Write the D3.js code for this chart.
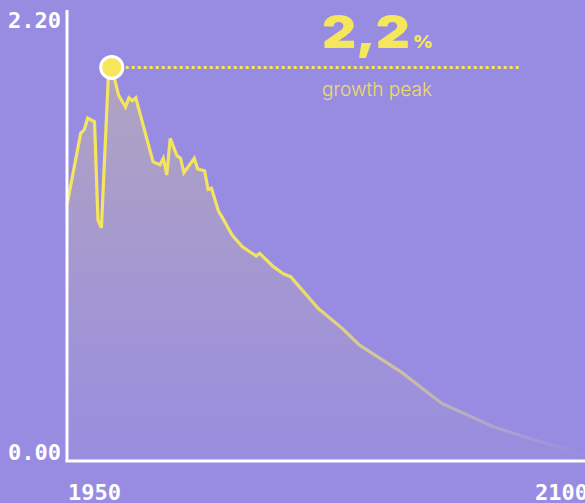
<!DOCTYPE html>
<html>
<head>
<meta charset="utf-8">
<script src="https://cdn.jsdelivr.net/npm/d3@7"></script>
<style>
  html, body { margin: 0; padding: 0; background: #978ce1; }
  svg { display: block; }
</style>
</head>
<body>
<div id="chart"></div>
<script>
// growth rate readings, %
const years = [1950, 1954, 1955, 1956, 1958, 1959, 1960, 1962, 1963, 1965, 1967, 1968, 1969, 1970,
  1975, 1977, 1978, 1979, 1980, 1982, 1983, 1984, 1987, 1988, 1990, 1991, 1992, 1994, 1995,
  1998, 2001, 2005, 2006, 2010, 2013, 2015, 2023, 2030, 2035, 2047, 2059, 2074, 2086, 2100];
const rates = [1.25, 1.60, 1.615, 1.673, 1.655, 1.176, 1.137, 1.87, 1.92, 1.785, 1.727, 1.771, 1.758, 1.772,
  1.46, 1.444, 1.477, 1.395, 1.574, 1.488, 1.477, 1.406, 1.477, 1.424, 1.416, 1.325, 1.33, 1.221, 1.192,
  1.102, 1.045, 1.0, 1.013, 0.948, 0.912, 0.899, 0.745, 0.647, 0.566, 0.436, 0.281, 0.167, 0.102, 0.038];
const yTicks = ["2.20", "0.00"];
const xTicks = ["1950", "2100"];
const peakYear = 1963;

const W = 585, H = 503;
const yellow = "#f5e65c";

let x = d3.scaleLinear().domain([1950, 2100]).range([67, 583]);
let y = d3.scaleLinear().domain([0, 2.2]).range([461, 10]);

let data = years.map((yr, i) => ({ year: yr, v: rates[i] }));
let peak = data.find(d => d.year == peakYear);

let svg = d3.select("#chart").append("svg")
    .attr("width", W)
    .attr("height", H);

let defs = svg.append("defs");

// area fill fades downward
let ag = defs.append("linearGradient")
    .attr("id", "areaGrad")
    .attr("gradientUnits", "userSpaceOnUse")
    .attr("x1", 0).attr("x2", 0)
    .attr("y1", y(peak.v)).attr("y2", y(0));
ag.append("stop").attr("offset", 0).attr("stop-color", "#dcc98e").attr("stop-opacity", 0.38);
ag.append("stop").attr("offset", 1).attr("stop-color", "#dcc98e").attr("stop-opacity", 0.02);

// line fades out toward 2100
let lg = defs.append("linearGradient")
    .attr("id", "lineGrad")
    .attr("gradientUnits", "userSpaceOnUse")
    .attr("x1", x(1950)).attr("x2", x(2100))
    .attr("y1", 0).attr("y2", 0);
lg.append("stop").attr("offset", 0).attr("stop-color", yellow).attr("stop-opacity", 1);
lg.append("stop").attr("offset", 0.42).attr("stop-color", yellow).attr("stop-opacity", 0.95);
lg.append("stop").attr("offset", 1).attr("stop-color", "#e8d6b0").attr("stop-opacity", 0);

let area = d3.area()
    .x(d => x(d.year))
    .y0(y(0))
    .y1(d => y(d.v));

let line = d3.line()
    .x(d => x(d.year))
    .y(d => y(d.v));

svg.append("path")
    .datum(data)
    .attr("d", area)
    .attr("fill", "url(#areaGrad)");

svg.append("path")
    .datum(data)
    .attr("d", line)
    .attr("fill", "none")
    .attr("stroke", "url(#lineGrad)")
    .attr("stroke-width", 3.2)
    .attr("stroke-linejoin", "miter");

// axes
svg.append("line")
    .attr("x1", x(1950)).attr("x2", x(1950))
    .attr("y1", y(2.2)).attr("y2", y(0) + 1)
    .attr("stroke", "#fff").attr("stroke-width", 3);
svg.append("line")
    .attr("x1", x(1950) - 1.5).attr("x2", W)
    .attr("y1", y(0)).attr("y2", y(0))
    .attr("stroke", "#fff").attr("stroke-width", 3);

let labelFont = "'DejaVu Sans Mono', monospace";
svg.append("text")
    .attr("x", 61).attr("y", 28)
    .attr("text-anchor", "end")
    .text(yTicks[0]);
svg.append("text")
    .attr("x", 61).attr("y", 460)
    .attr("text-anchor", "end")
    .text(yTicks[1]);
svg.append("text")
    .attr("x", x(1950) + 1).attr("y", 500)
    .attr("text-anchor", "start")
    .text(xTicks[0]);
svg.append("text")
    .attr("x", x(2100) + 5).attr("y", 500)
    .attr("text-anchor", "end")
    .text(xTicks[1]);
svg.selectAll("text")
    .attr("font-family", labelFont)
    .attr("font-weight", "bold")
    .attr("font-size", 22)
    .attr("fill", "#fff");

// peak marker
svg.append("line")
    .attr("x1", x(peak.year) + 14).attr("x2", 520)
    .attr("y1", y(peak.v)).attr("y2", y(peak.v))
    .attr("stroke", yellow)
    .attr("stroke-width", 3)
    .attr("stroke-dasharray", "3,3");

svg.append("circle")
    .attr("cx", x(peak.year))
    .attr("cy", y(peak.v))
    .attr("r", 11)
    .attr("fill", yellow)
    .attr("stroke", "#fff")
    .attr("stroke-width", 3);

svg.append("text")
    .attr("x", 322).attr("y", 48)
    .attr("font-family", "Inter, 'Open Sans', sans-serif")
    .attr("font-weight", 900)
    .attr("font-size", 46)
    .attr("textLength", 88)
    .attr("lengthAdjust", "spacingAndGlyphs")
    .attr("fill", yellow)
    .text("2,2");
svg.append("text")
    .attr("x", 413).attr("y", 48)
    .attr("font-family", "Inter, 'Open Sans', sans-serif")
    .attr("font-weight", 900)
    .attr("font-size", 18)
    .attr("textLength", 20)
    .attr("lengthAdjust", "spacingAndGlyphs")
    .attr("fill", yellow)
    .text("%");
svg.append("text")
    .attr("x", 322).attr("y", 96)
    .attr("font-family", "Inter, 'Open Sans', sans-serif")
    .attr("font-weight", 300)
    .attr("font-size", 19)
    .attr("textLength", 110)
    .attr("lengthAdjust", "spacingAndGlyphs")
    .attr("fill", "#ecdf66")
    .text("growth peak");
</script>
</body>
</html>
